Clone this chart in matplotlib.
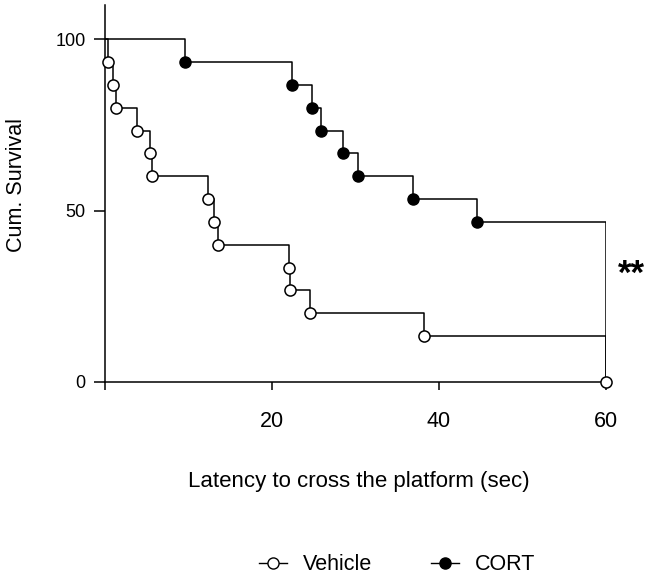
import numpy as np
import matplotlib
matplotlib.use("Agg")
import matplotlib.pyplot as plt

plt.rcParams['font.family'] = ['Liberation Sans', 'DejaVu Sans']

# Kaplan-Meier data (time in sec, cumulative survival in %)
veh_time = [0.4, 0.9, 1.3, 3.8, 5.4, 5.6, 12.3, 13.1, 13.5, 22.0, 22.1, 24.6, 38.2, 60.0]
veh_surv = [93.3, 86.7, 80.0, 73.3, 66.7, 60.0, 53.3, 46.7, 40.0, 33.3, 26.7, 20.0, 13.3, 0.0]
cort_time = [9.6, 22.4, 24.8, 25.9, 28.5, 30.3, 36.9, 44.6]
cort_surv = [93.3, 86.7, 80.0, 73.3, 66.7, 60.0, 53.3, 46.7]
cort_end = 60.0

fig = plt.figure(figsize=(6.49, 5.84), dpi=100)
ax = fig.add_axes([0.1618, 0.3459, 0.7719, 0.6455])

# CORT curve (steps down to 0 at cutoff, no marker there)
ct = [0] + cort_time + [cort_end]
cs = [100] + cort_surv + [0]
ax.step(ct, cs, where='post', color='black', lw=1.1, zorder=2)
ax.plot(cort_time, cort_surv, 'o', ms=8, mfc='black', mec='black', mew=1, zorder=3)

# Vehicle curve
vt = [0] + veh_time
vs = [100] + veh_surv
ax.step(vt, vs, where='post', color='black', lw=1.1, zorder=2)
ax.plot(veh_time, veh_surv, 'o', ms=8, mfc='white', mec='black', mew=1.1, zorder=4,
        clip_on=False)

ax.set_xlim(0, 60)
ax.set_ylim(0, 110)
ax.spines['top'].set_visible(False)
ax.spines['right'].set_visible(False)
ax.spines['left'].set_linewidth(1.1)
ax.spines['bottom'].set_linewidth(1.1)

ax.set_xticks([0, 20, 40, 60])
ax.set_xticklabels(['', '20', '40', '60'], fontsize=15.5)
ax.set_yticks([0, 50, 100])
ax.set_yticklabels(['0', '50', '100'], fontsize=13)
ax.tick_params(axis='x', direction='out', length=6, width=1.1, pad=15)
ax.tick_params(axis='y', direction='out', length=8, width=1.1, pad=6)

fig.text(16.7 / 649, 1 - 185 / 584, 'Cum. Survival', rotation=90, fontsize=15.5,
         ha='center', va='center')
fig.text(359 / 649, 1 - 487 / 584, 'Latency to cross the platform (sec)', fontsize=16,
         ha='center', va='baseline')

ax.text(63.0, 31.3, '**', fontsize=25, fontweight='bold', ha='center', va='center',
        clip_on=False)

h1, = ax.plot([], [], '-o', color='black', ms=8, mfc='white', mec='black', lw=1)
h2, = ax.plot([], [], '-o', color='black', ms=8, mfc='black', mec='black', lw=1)
fig.legend([h1, h2], ['Vehicle', 'CORT'], loc='center', bbox_to_anchor=(0.612, 0.033),
           ncol=2, frameon=False, fontsize=15.5, handlelength=1.3, columnspacing=2.7,
           handletextpad=0.75)

fig.savefig('out.png', dpi=100)
